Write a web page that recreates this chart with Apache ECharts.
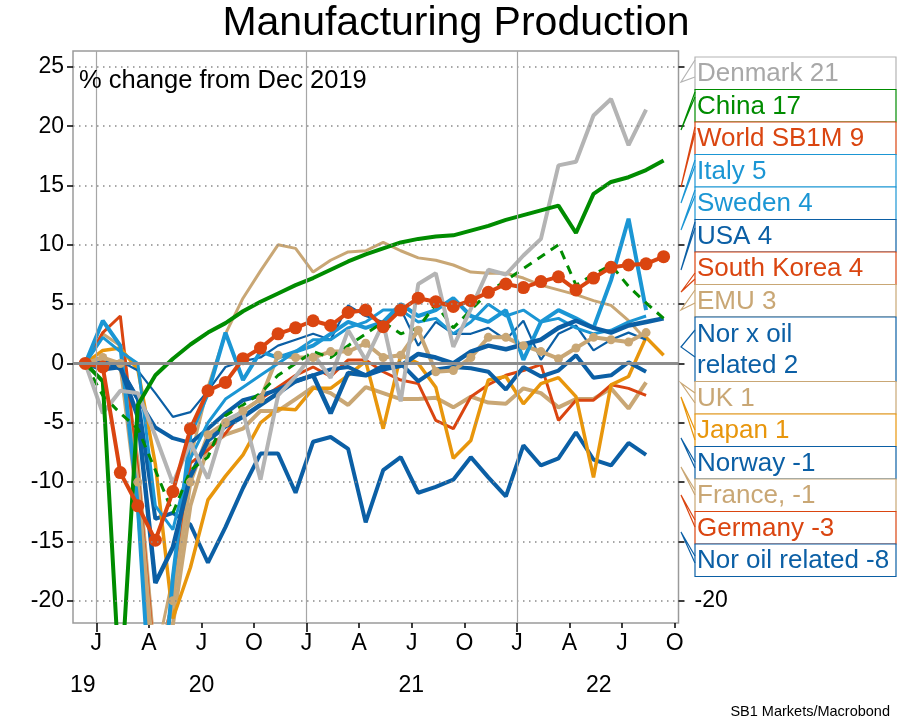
<!DOCTYPE html>
<html>
<head>
<meta charset="utf-8">
<script src="https://cdn.jsdelivr.net/npm/echarts@6/dist/echarts.min.js"></script>
<style>html,body{margin:0;padding:0;background:#fff}#chart{width:906px;height:721px}</style>
</head>
<body>
<div id="chart"></div>
<script>
// months, index 0 = Dec 2019 ... 33 = Sep 2022 (% change from Dec 2019)
var china    = [0, -1.5, -28, -3.5, -1.0, 0.4, 1.6, 2.6, 3.4, 4.4, 5.2, 5.9, 6.6, 7.2, 7.9, 8.6, 9.2, 9.7, 10.2, 10.5, 10.7, 10.8, 11.2, 11.6, 12.1, 12.5, 12.9, 13.3, 11.0, 14.3, 15.3, 15.7, 16.3, 17.1];
var world    = [0, -0.3, -9.2, -12.0, -14.9, -10.8, -5.5, -2.3, -1.6, 0.4, 1.3, 2.5, 3.0, 3.6, 3.2, 4.3, 4.5, 3.1, 4.5, 5.5, 5.2, 4.8, 5.3, 6.0, 6.7, 6.4, 6.9, 7.3, 6.2, 7.2, 8.1, 8.3, 8.4, 9.0];
var denmark  = [0, -4.2, -2.3, -2.5, -6.1, -10.1, -6.7, -9.7, -4.8, -4.1, -9.8, -2.7, -1.1, 0.8, -1.2, 2.8, 0.3, 3.4, -3.2, 6.7, 7.6, 1.4, 4.6, 7.9, 7.5, 9.1, 10.5, 16.7, 17.0, 20.9, 22.3, 18.4, 21.4, null];
var italy    = [0, 3.6, 1.5, -12, -35, -18, -6, -2.5, 2.6, -1.4, 1.0, 0.5, 1.0, 1.5, 2.5, 3.5, 3.0, 3.5, 5.0, 4.0, 4.5, 5.5, 4.0, 3.5, 4.5, 0.3, 3.5, 4.5, 3.8, 3.0, 7.0, 12.2, 4.5, null];
var sweden   = [0, 2.2, 1.0, 0.0, -12, -14, -8, -5, -3, -2, -1, 0, 1, 2, 2, 3, 3.5, 4.5, 4.5, 3.5, 3.8, 2.5, 3.5, 5.0, 4.0, 4.5, 3.5, 3.8, 3.0, 2.5, 2.8, 3.5, 4.0, null];
var usa      = [0, -0.5, -0.3, -4.5, -18.5, -15.5, -9.5, -6.5, -5.3, -4.5, -3.5, -2.5, -1.5, -1.0, -4.2, -0.8, -1.0, -0.5, -0.2, 0.8, 0.5, 0.0, 1.0, 1.5, 1.2, 1.6, 2.0, 3.0, 3.6, 3.0, 2.6, 3.2, 3.5, 3.8];
var korea    = [0, -2.7, -4.2, -5.5, -9.0, -12.6, -9.0, -7.9, -4.4, -3.5, -2.5, -1.0, 0.0, 1.0, 0.5, 1.5, 2.5, 3.5, 2.5, 3.0, 5.0, 3.0, 4.5, 6.0, 7.0, 8.0, 9.0, 10.0, 6.6, 7.5, 8.3, 6.5, 5.1, 3.8];
var emu      = [0, 0.5, 0.0, -10, -27, -20, -10, -6, -5, -4, -3, 0.7, 0.5, 0.5, 1.0, 1.0, 1.7, 0.5, 0.7, 2.8, -0.7, -0.6, 0.5, 2.2, 2.2, 1.5, 1.0, 0.4, 1.3, 2.2, 2.0, 1.8, 2.6, null];
var norXOil  = [0, 0.2, 0.2, -0.6, -2.5, -4.5, -4.1, -2.3, -0.3, 0.2, 0.5, 1.5, 2.0, 2.5, 2.0, 4.9, 4.0, 3.5, 4.6, 1.5, 3.5, 2.5, 2.5, 3.0, 2.0, 3.6, 0.3, 2.5, 3.2, 1.1, 2.0, 2.6, 2.0, null];
var uk       = [0, 2.5, 1.5, -8, -25, -18, -8, -2, 2.5, 5.5, 7.8, 10.0, 9.7, 7.7, 8.7, 9.4, 9.5, 10.2, 9.5, 8.9, 8.7, 8.3, 7.7, 7.6, 7.6, 7.2, 6.6, 6.2, 5.8, 5.3, 4.9, 3.6, 2.0, null];
var japan    = [0, 1.1, 1.3, -0.5, -8.5, -21.5, -17.2, -11.5, -9.5, -7.7, -5.0, -3.8, -3.9, -2.1, -2.1, -1.0, 0.2, -5.5, 0.7, 0.0, -2.0, -8.0, -6.5, -1.4, -1.1, -3.4, -1.7, -1.2, -2.8, -9.6, -1.8, -1.1, 2.2, 0.7];
var norway   = [0, 0.3, -0.4, -3.0, -5.4, -6.3, -6.7, -5.5, -4.2, -3.1, -2.7, -2.2, -1.5, -1.0, -0.5, -0.3, -1.0, -0.2, 0.0, -1.5, -0.5, -0.3, -0.4, -0.7, -2.2, -0.3, -1.1, -0.6, 0.7, -1.2, -1.0, 0.1, -0.7, null];
var france   = [0, -0.5, 0.0, -12, -30, -22, -12, -7, -6, -5.5, -4, -4, -3, -2, -2.5, -3.5, -2, -2.5, -3, -3, -2.9, -3.7, -2.8, -3.3, -3.4, -2.1, -2.5, -3.7, -3.0, -3.0, -2.1, -3.8, -1.6, null];
var germany  = [0, 2.6, 4.0, -9, -26, -20, -8.4, -7.3, -5.9, -4.0, -3.0, -2.0, -1.0, -0.3, -1.1, 0.3, 0.3, -0.7, -1.4, -1.7, -4.8, -5.5, -2.8, -1.8, -1.0, -0.6, -0.1, -4.8, -3.1, -3.1, -1.8, -2.1, -2.7, null];
var norOil   = [0, 0.5, -0.5, -3.0, -13.1, -12.6, -13.6, -16.8, -13.8, -10.5, -7.6, -7.6, -10.9, -6.6, -6.2, -7.2, -13.4, -9.0, -7.9, -10.9, -10.4, -9.8, -7.9, -9.6, -11.2, -6.9, -8.6, -8.0, -5.8, -8.1, -8.6, -6.7, -7.7, null];

var yTicks = [-20, -15, -10, -5, 0, 5, 10, 15, 20, 25];
var monthLetters = ['J', 'A', 'J', 'O'];
var yearLabels = ['19', '20', '21', '22'];
var boxLabels = ['Denmark 21', 'China 17', 'World SB1M 9', 'Italy 5', 'Sweden 4', 'USA 4', 'South Korea 4', 'EMU 3',
                 'Nor x oil\nrelated 2', 'UK 1', 'Japan 1', 'Norway -1', 'France, -1', 'Germany -3', 'Nor oil related -8'];

var GRAY = '#b4b4b4', GREEN = '#008c00', RED = '#da4510', LBLUE = '#1b96d4', DBLUE = '#0b5fa5', TAN = '#c9a775', ORANGE = '#e8960c';

// first of January sits 0.63 month after the Dec-2019 point
var JAN = 0.63;
var quarterTicks = [], yearTicks = [];
for (var k = 0; k < 12; k++) quarterTicks.push(JAN + 3 * k);
for (var k = 0; k < 3; k++) yearTicks.push(JAN + 12 * k);
var yearCentres = [-0.14, 6.63, 18.6, 29.3];

function pts(arr) {
    var out = [];
    arr.forEach(function (v, i) { if (v !== null) out.push([i, v]); });
    return out;
}
function line(name, arr, color, width, extra) {
    var s = {
        name: name, type: 'line', data: pts(arr), symbol: 'none', z: 3,
        lineStyle: { color: color, width: width }, itemStyle: { color: color }
    };
    for (var key in extra) s[key] = extra[key];
    return s;
}

var chart = echarts.init(document.getElementById('chart'));
var FONT = '"Liberation Sans", Arial, sans-serif';
var tickStyle = { color: '#000', width: 1.5 };

var hLines = yTicks.map(function (v) { return { yAxis: v }; });
var option = {
    animation: false,
    grid: { left: 73, right: 227.5, top: 51, bottom: 98, show: true, borderColor: '#9a9a9a', borderWidth: 1.5 },
    xAxis: [{
        type: 'value', min: -0.70, max: 33.85, position: 'bottom',
        axisLine: { show: false, onZero: false }, splitLine: { show: false },
        axisTick: { show: true, customValues: quarterTicks, length: 5, lineStyle: tickStyle },
        axisLabel: {
            customValues: quarterTicks, margin: 9, color: '#000', fontSize: 23, fontFamily: FONT,
            formatter: function (v) { return monthLetters[Math.round((v - JAN) / 3) % 4]; }
        }
    }, {
        type: 'value', min: -0.70, max: 33.85, position: 'bottom',
        axisLine: { show: false, onZero: false }, splitLine: { show: false },
        axisTick: { show: true, customValues: yearTicks, length: 9, lineStyle: tickStyle },
        axisLabel: {
            customValues: yearCentres, margin: 51, color: '#000', fontSize: 23, fontFamily: FONT,
            formatter: function (v) { return yearLabels[yearCentres.indexOf(v)]; }
        }
    }],
    yAxis: [{
        type: 'value', min: -21.88, max: 26.34, position: 'left',
        axisLine: { show: false, onZero: false }, splitLine: { show: false },
        axisTick: { show: true, customValues: yTicks, length: 6, lineStyle: tickStyle },
        axisLabel: { customValues: yTicks, margin: 9, color: '#000', fontSize: 23, fontFamily: FONT }
    }, {
        type: 'value', min: -21.88, max: 26.34, position: 'right',
        axisLine: { show: false, onZero: false }, splitLine: { show: false },
        axisTick: { show: true, customValues: yTicks, length: 6, lineStyle: tickStyle },
        axisLabel: { customValues: [-20], margin: 16, color: '#000', fontSize: 23, fontFamily: FONT }
    }],
    series: [
        {
            type: 'line', data: [], z: 1, silent: true,
            markLine: {
                silent: true, symbol: 'none', label: { show: false },
                data: hLines.map(function (d) { return Object.assign({ lineStyle: { color: '#8a8a8a', width: 1.5, type: [1.5, 4.5] } }, d); })
                    .concat(yearTicks.map(function (t) { return { xAxis: t, lineStyle: { color: '#a6a6a6', width: 1.2, type: 'solid' } }; }))
                    .concat([{ yAxis: 0, lineStyle: { color: '#8c8c8c', width: 3, type: 'solid' } }])
            }
        },
        line('Nor oil related', norOil, DBLUE, 4),
        line('France', france, TAN, 4),
        line('UK', uk, TAN, 3),
        line('Germany', germany, RED, 3),
        line('Japan', japan, ORANGE, 3.5),
        line('Norway', norway, DBLUE, 4),
        line('Nor x oil related', norXOil, DBLUE, 2.2),
        line('EMU', emu, TAN, 4, { symbol: 'circle', symbolSize: 9, showSymbol: true }),
        line('Sweden', sweden, LBLUE, 3),
        line('Italy', italy, LBLUE, 4),
        line('USA', usa, DBLUE, 4.5),
        line('South Korea', korea, GREEN, 3, { lineStyle: { color: GREEN, width: 3, type: [9, 7] } }),
        line('Denmark', denmark, GRAY, 4),
        line('China', china, GREEN, 4),
        line('World SB1M', world, RED, 4, { symbol: 'circle', symbolSize: 13, showSymbol: true })
    ]
};
chart.setOption(option);

// right-hand value boxes with callout pointers
var boxColors = [GRAY, GREEN, RED, LBLUE, LBLUE, DBLUE, RED, TAN, DBLUE, TAN, ORANGE, DBLUE, TAN, RED, DBLUE];
var boxTextColors = ['#a8a8a8', GREEN, RED, LBLUE, LBLUE, DBLUE, RED, TAN, DBLUE, TAN, ORANGE, DBLUE, TAN, RED, DBLUE];
var boxTops = [57, 89.5, 122, 154.5, 187, 219.5, 252, 284.5, 317, 381.5, 414, 446.5, 479, 511.5, 544];
var boxBottoms = [89.5, 122, 154.5, 187, 219.5, 252, 284.5, 317, 381.5, 414, 446.5, 479, 511.5, 544, 576.5];
var tips = [[82, 60, 77], [130, 92, 97], [187, 127, 133], [203, 160, 166], [230, 190, 196], [270, 222, 228], [292, 273, 279],
            [310, 290, 303], [347, 330, 357], [383, 393, 403], [397, 430, 440], [438, 462, 468], [467, 490, 495], [495, 520, 527], [532, 556, 563]];
var BX = 695, BW = 201;
var gfx = [];
boxLabels.forEach(function (txt, i) {
    var c = boxColors[i];
    gfx.push({ type: 'rect', shape: { x: BX, y: boxTops[i], width: BW, height: boxBottoms[i] - boxTops[i] },
        style: { fill: '#fff', stroke: c, lineWidth: 1.2 }, z: 10 });
    gfx.push({ type: 'polyline', shape: { points: [[BX, tips[i][1]], [681, tips[i][0]], [BX, tips[i][2]]] },
        style: { fill: null, stroke: c, lineWidth: 1.2 }, z: 11 });
    gfx.push({ type: 'text', x: BX + 2, y: (boxTops[i] + boxBottoms[i]) / 2 + 1, z: 12,
        style: { text: txt, fill: boxTextColors[i], font: '26px ' + FONT, verticalAlign: 'middle', lineHeight: 31 } });
});
gfx.push({ type: 'text', x: 456, y: 24, style: { text: 'Manufacturing Production', fill: '#000', font: '41px ' + FONT, align: 'center', verticalAlign: 'middle' } });
gfx.push({ type: 'text', x: 79, y: 81, z: 20, style: { text: '% change from Dec 2019', fill: '#000', font: '25.5px ' + FONT, verticalAlign: 'middle' } });
gfx.push({ type: 'text', x: 890, y: 712, style: { text: 'SB1 Markets/Macrobond', fill: '#000', font: '14.5px ' + FONT, align: 'right', verticalAlign: 'middle' } });
chart.setOption({ graphic: gfx });
</script>
</body>
</html>
